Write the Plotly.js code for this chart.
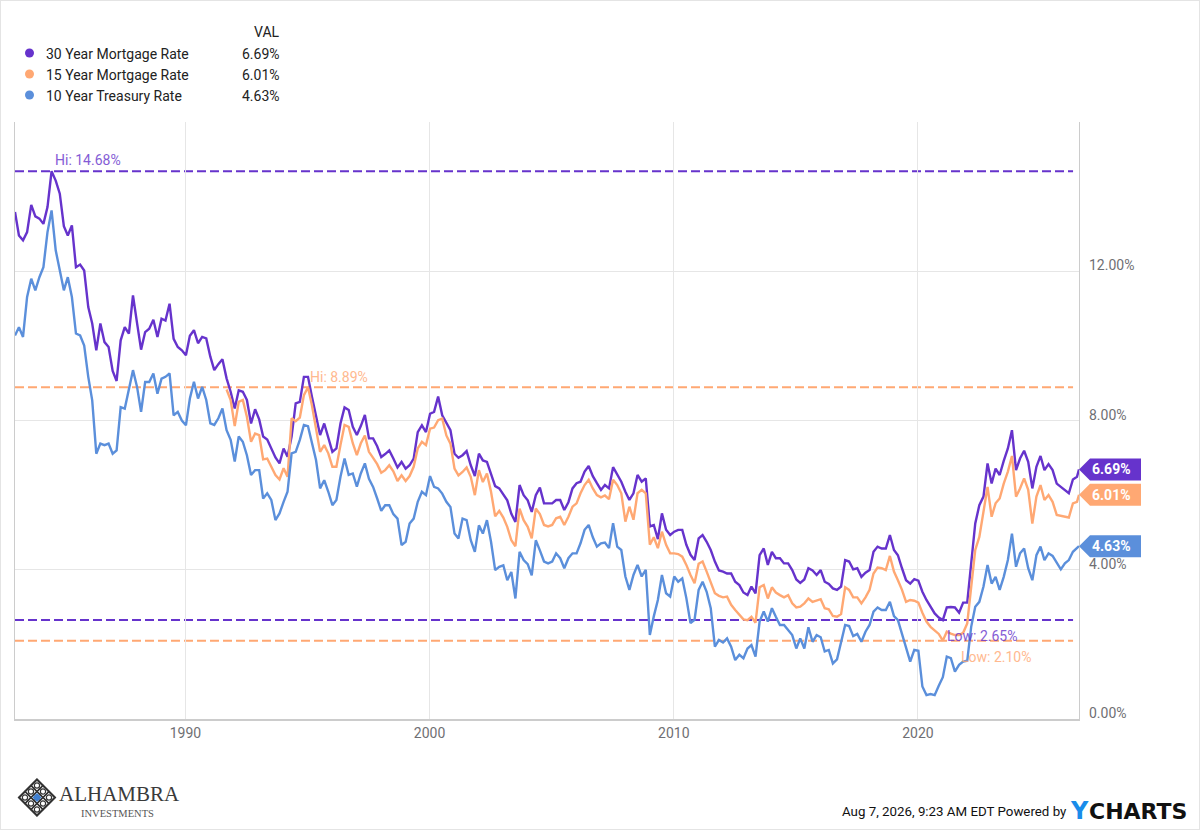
<!DOCTYPE html>
<html>
<head>
<meta charset="utf-8">
<title>Mortgage Rates</title>
<script src="https://cdn.plot.ly/plotly-3.0.1.min.js"></script>
<style>
  html, body { margin: 0; padding: 0; background: #fff; }
  #chart { width: 1200px; height: 830px; }
  #frame { position: absolute; left: 0; top: 0; width: 1198px; height: 828px; border: 1px solid #e4e4e4; pointer-events: none; }
</style>
</head>
<body>
<div id="chart"></div>
<div id="frame"></div>
<script>
// values, one point every two months from Jan 1983
var rate30 = [
  13.59,12.96,12.83,13.05,13.78,13.47,13.41,13.27,13.72,14.68,
  14.43,14.08,13.21,12.96,13.23,12.11,12.18,12.02,11.04,10.6,
  9.88,10.6,10.1,9.97,9.33,9.06,10.15,10.5,10.33,11.35,
  10.61,9.9,10.37,10.46,10.7,10.24,10.73,10.68,11.13,10.19,
  9.97,9.88,9.75,10.27,10.42,10.07,10.24,10.2,9.71,9.35,
  9.51,9.64,9.13,8.77,8.32,8.81,8.77,8.55,7.92,8.3,
  8.03,7.57,7.49,7.25,7.01,6.85,7.25,7.03,7.57,8.46,
  8.5,9.17,9.17,8.64,8.1,7.61,7.92,7.52,7.16,7.25,
  7.92,8.35,8.28,7.83,7.61,7.85,8.15,7.52,7.52,7.31,
  7.02,7.1,7.2,6.98,6.74,6.89,6.71,6.8,6.98,7.69,
  7.87,7.69,8.18,8.23,8.64,8.14,7.92,7.74,7.11,7.0,
  7.07,7.18,6.8,6.51,7.11,6.93,6.89,6.58,6.24,6.18,
  6.0,5.86,5.5,5.28,6.27,6.0,5.86,5.55,6.0,6.2,
  5.78,5.78,5.78,5.87,5.87,5.6,5.81,6.18,6.32,6.36,
  6.63,6.78,6.51,6.32,6.14,6.27,6.18,6.75,6.54,6.36,
  6.09,5.87,6.05,6.54,6.36,6.45,5.16,5.2,4.82,5.51,
  5.07,4.93,5.02,5.07,5.07,4.67,4.4,4.26,4.84,4.93,
  4.75,4.53,4.22,3.98,3.95,3.9,3.9,3.68,3.59,3.39,
  3.32,3.55,3.37,4.39,4.57,4.13,4.48,4.31,4.31,4.17,
  4.17,3.99,3.74,3.65,3.74,4.04,3.98,3.86,3.99,3.68,
  3.62,3.5,3.46,3.55,4.26,4.22,4.01,4.04,3.81,3.92,
  3.99,4.48,4.62,4.57,4.57,4.93,4.53,4.39,4.04,3.72,
  3.63,3.75,3.71,3.41,3.19,3.01,2.83,2.72,2.65,2.99,
  3.0,2.99,2.85,3.12,3.12,4.17,5.24,5.73,5.96,6.85,
  6.31,6.71,6.54,6.92,7.25,7.74,6.67,6.98,7.19,6.89,
  6.18,6.76,7.05,6.67,6.83,6.67,6.31,6.22,6.13,6.05,
  6.42,6.49,6.69
];

// the 15 year series only starts in late 1991
var rate15Start = 52;
var rate15 = [
  8.83,8.55,7.85,8.5,8.55,8.1,7.43,7.65,
  7.61,6.96,6.98,6.76,6.54,6.42,6.72,6.49,8.06,7.98,
  8.08,8.68,8.89,8.41,7.83,7.16,7.34,7.12,6.76,6.76,
  7.34,7.88,7.83,7.39,7.07,7.39,7.6,7.16,7.0,6.83,
  6.6,6.67,6.8,6.64,6.38,6.53,6.38,6.51,6.76,7.25,
  7.43,7.34,7.78,7.81,8.01,8.05,7.6,7.38,6.71,6.53,
  6.62,6.74,6.49,6.0,6.67,6.35,6.58,6.09,5.43,5.58,
  5.4,5.15,4.79,4.63,5.64,5.33,5.15,4.84,5.64,5.49,
  5.2,5.16,5.2,5.38,5.42,5.2,5.42,5.69,5.78,6.05,
  6.27,6.41,6.18,6.0,5.94,5.99,5.89,6.41,6.27,6.05,
  5.29,5.69,5.34,6.05,6.14,6.05,4.67,4.87,4.58,5.02,
  4.67,4.44,4.44,4.42,4.35,4.13,3.86,3.64,4.16,4.22,
  3.95,3.68,3.37,3.3,3.26,3.28,3.06,2.92,2.79,2.67,
  2.65,2.74,2.58,3.53,3.59,3.23,3.53,3.39,3.32,3.26,
  3.32,3.1,2.99,3.01,3.1,3.23,3.14,3.17,3.21,2.97,
  2.94,2.76,2.74,2.81,3.53,3.46,3.26,3.26,3.1,3.26,
  3.46,3.9,4.06,4.04,3.99,4.37,3.95,3.72,3.46,3.14,
  3.19,3.17,3.12,2.85,2.61,2.47,2.38,2.28,2.1,2.34,
  2.29,2.25,2.25,2.31,2.56,3.46,4.53,4.88,5.6,6.22,
  5.42,5.78,5.91,6.31,6.63,7.05,5.96,6.18,6.45,6.14,
  5.24,5.96,6.27,5.87,6.0,5.82,5.47,5.44,5.42,5.4,
  5.78,5.82,6.01
];

var rate10 = [
  10.28,10.5,10.24,11.31,11.8,11.49,11.84,12.11,13.05,13.63,
  12.56,12.02,11.49,11.84,11.31,10.33,10.28,10.01,9.17,8.54,
  7.11,7.38,7.34,7.38,7.11,7.2,8.36,8.32,8.81,9.35,
  8.9,8.23,9.03,9.03,9.26,8.72,9.12,9.17,9.26,8.14,
  8.23,8.0,7.87,8.59,9.04,8.59,8.9,8.55,7.92,7.88,
  8.06,8.32,7.74,7.48,6.9,7.57,7.43,7.07,6.54,6.67,
  6.67,5.91,6.05,5.87,5.33,5.51,5.82,6.09,7.12,7.16,
  7.48,7.88,7.85,7.39,6.94,6.18,6.4,6.09,5.73,5.87,
  6.49,6.98,6.54,6.58,6.23,6.58,6.85,6.44,6.22,5.91,
  5.58,5.73,5.73,5.49,5.37,4.66,4.75,5.24,5.37,5.82,
  6.09,6.0,6.51,6.22,6.18,6.04,5.82,5.68,4.97,4.84,
  5.37,5.33,4.79,4.48,5.19,4.97,5.33,4.75,3.99,4.08,
  4.12,3.72,3.94,3.23,4.48,4.26,4.15,3.85,4.79,4.52,
  4.22,4.17,4.22,4.44,4.31,4.04,4.31,4.44,4.44,4.71,
  5.07,5.2,4.87,4.62,4.71,4.73,4.58,5.25,4.62,4.53,
  3.82,3.46,3.86,4.13,3.82,4.0,2.25,2.75,3.19,3.86,
  3.37,3.28,3.82,3.68,3.77,3.24,2.57,2.66,3.46,3.68,
  3.41,2.97,1.94,2.12,2.05,2.16,1.94,1.58,1.72,1.63,
  1.89,1.98,1.67,2.61,2.88,2.61,2.97,2.74,2.52,2.52,
  2.39,2.25,1.89,2.16,1.89,2.46,2.07,2.25,2.19,1.81,
  1.85,1.49,1.6,2.07,2.52,2.49,2.22,2.28,2.07,2.34,
  2.52,2.88,2.99,2.92,2.92,3.14,2.76,2.65,2.3,1.94,
  1.54,1.85,1.83,0.87,0.64,0.67,0.64,0.89,1.12,1.67,
  1.63,1.27,1.45,1.54,1.56,2.47,3.01,3.14,3.55,4.13,
  3.63,3.81,3.46,3.81,4.26,4.97,4.08,4.44,4.57,4.04,
  3.72,4.39,4.62,4.26,4.44,4.37,4.17,4.01,4.17,4.26,
  4.48,4.6,4.63
];

var seriesNames = ["30 Year Mortgage Rate", "15 Year Mortgage Rate", "10 Year Treasury Rate"];
var seriesColors = ["#6633cc", "#ffa873", "#5b8fdb"];
var lastValues = [6.69, 6.01, 4.63];
var lastLabels = ["6.69%", "6.01%", "4.63%"];

var yTicks = [0, 4, 8, 12];
var yTickLabels = ["0.00%", "4.00%", "8.00%", "12.00%"];
var xTicks = ["1990-01-01", "2000-01-01", "2010-01-01", "2020-01-01"];
var xTickLabels = ["1990", "2000", "2010", "2020"];

var hiLow = [
  { text: "Hi: 14.68%", value: 14.68, color: "#6633cc", at: "1984-08-05", shift: 11 },
  { text: "Hi: 8.89%", value: 8.89, color: "#ffa873", at: "1995-01-05", shift: 10 },
  { text: "Low: 2.65%", value: 2.65, color: "#6633cc", at: "2021-02-15", shift: -16 },
  { text: "Low: 2.10%", value: 2.10, color: "#ffa873", at: "2021-09-01", shift: -16 }
];

var startDate = "1983-01-08";
var endDate = "2026-08-07";

var dates = [];
for (var i = 0; i < rate30.length - 1; i++) {
  dates.push(new Date(Date.UTC(1983, 2 * i, 8)).toISOString().slice(0, 10));
}
dates.push(endDate);

var W = 1200, H = 830;
var plotL = 14.5, plotR = 1079.5, plotT = 122, plotB = 719;
function px(x) { return (x - plotL) / (plotR - plotL); }
function py(y) { return (plotB - y) / (plotB - plotT); }

var font = "Roboto, sans-serif";
var tickColor = "#6f6f73";

var traces = [
  { x: dates, y: rate30, name: seriesNames[0], color: seriesColors[0] },
  { x: dates.slice(rate15Start), y: rate15, name: seriesNames[1], color: seriesColors[1] },
  { x: dates, y: rate10, name: seriesNames[2], color: seriesColors[2] }
].map(function (s) {
  return {
    x: s.x, y: s.y, name: s.name, type: "scatter", mode: "lines",
    line: { color: s.color, width: 2.4 }, hoverinfo: "x+y"
  };
});

var shapes = [];
var annotations = [];

function text(x, y, str, size, color, anchor, family) {
  annotations.push({
    xref: "paper", yref: "paper", x: px(x), y: py(y), text: str, showarrow: false,
    xanchor: anchor || "left", yanchor: "middle", borderpad: 0, borderwidth: 0,
    font: { family: family || font, size: size, color: color }
  });
}

// header table
text(280, 32, "VAL", 14, "#222", "right");
seriesNames.forEach(function (name, n) {
  var y = [54, 75, 96][n];
  shapes.push({
    type: "circle", xref: "paper", yref: "paper", xsizemode: "pixel", ysizemode: "pixel",
    xanchor: px(29), yanchor: py(y - 1), x0: -4.5, x1: 4.5, y0: -4.5, y1: 4.5,
    fillcolor: seriesColors[n], line: { width: 0 }
  });
  text(46, y, name, 14, "#222");
  text(280, y, lastLabels[n], 14, "#222", "right");
});

// hi and low lines
hiLow.forEach(function (h) {
  shapes.push({
    type: "line", xref: "x", yref: "y", x0: startDate, x1: "2026-05-10", y0: h.value, y1: h.value,
    line: { color: h.color, width: 2, dash: "9px,4px" }, layer: "below"
  });
  annotations.push({
    xref: "x", yref: "y", x: h.at, y: h.value, text: h.text, showarrow: false,
    xanchor: "left", yanchor: "middle", yshift: h.shift, opacity: 0.8,
    font: { family: font, size: 14, color: h.color }
  });
});

// y tick labels sit just above their grid lines
yTicks.forEach(function (v, n) {
  annotations.push({
    xref: "paper", yref: "y", x: 1, y: v, xshift: 8, yshift: 6, text: yTickLabels[n],
    showarrow: false, xanchor: "left", yanchor: "middle",
    font: { family: font, size: 14, color: tickColor }
  });
});

// end of line tags
lastValues.forEach(function (v, n) {
  shapes.push({
    type: "path", xref: "paper", yref: "y", xsizemode: "pixel", ysizemode: "pixel",
    xanchor: 1, yanchor: v, path: "M 0 0 L 11 -11 L 62 -11 L 62 11 L 11 11 Z",
    fillcolor: seriesColors[n], line: { width: 0 }
  });
  annotations.push({
    xref: "paper", yref: "y", x: 1, y: v, xshift: 32, text: "<b>" + lastLabels[n] + "</b>",
    showarrow: false, xanchor: "center", yanchor: "middle",
    font: { family: font, size: 14, color: "#fff" }
  });
});

// footer
text(1067, 812, "Aug 7, 2026, 9:23 AM EDT Powered by", 13.3, "#111", "right");
text(1070, 811, "<b>Y</b>", 24, "#1a8cea", "left", "DejaVu Sans");
text(1090, 811, "<b>CHARTS</b>", 22, "#111", "left", "DejaVu Sans");

// logo, a rotated 3x3 lattice with a blue middle
var logoX = 36.5, logoY = 797.5;
function diamond(cx, cy, r, fill, lineColor, w) {
  shapes.push({
    type: "path", xref: "paper", yref: "paper", xsizemode: "pixel", ysizemode: "pixel",
    xanchor: px(logoX), yanchor: py(logoY),
    path: "M " + cx + " " + (cy + r) + " L " + (cx + r) + " " + cy + " L " + cx + " " + (cy - r) + " L " + (cx - r) + " " + cy + " Z",
    fillcolor: fill, line: { color: lineColor, width: w }
  });
}
diamond(0, 0, 18, "rgba(0,0,0,0)", "#333", 2);
[-1, 0, 1].forEach(function (u) {
  [-1, 0, 1].forEach(function (v) {
    var cx = (u - v) * 6, cy = (u + v) * 6;
    diamond(cx, cy, 6, "rgba(0,0,0,0)", "#333", 1.3);
    shapes.push({
      type: "circle", xref: "paper", yref: "paper", xsizemode: "pixel", ysizemode: "pixel",
      xanchor: px(logoX), yanchor: py(logoY), x0: cx - 2.6, x1: cx + 2.6, y0: cy - 2.6, y1: cy + 2.6,
      fillcolor: "rgba(0,0,0,0)", line: { color: "#333", width: 1.2 }
    });
  });
});
diamond(0, 0, 4.5, "#3f7fd0", "#3f7fd0", 0);
text(59, 794, "ALHAMBRA", 21, "#3a3a3a", "left", "Liberation Serif");
text(81, 813, "INVESTMENTS", 10.5, "#555", "left", "Liberation Serif");

var layout = {
  width: W, height: H,
  margin: { l: plotL, r: W - plotR, t: plotT, b: H - plotB, pad: 0 },
  paper_bgcolor: "#fff", plot_bgcolor: "#fff",
  showlegend: false,
  hovermode: "x unified",
  font: { family: font },
  xaxis: {
    type: "date", range: [startDate, endDate],
    tickmode: "array", tickvals: xTicks, ticktext: xTickLabels,
    tickfont: { family: font, size: 14, color: tickColor }, ticks: "", ticklen: 0,
    showgrid: true, gridcolor: "#e6e6e6", gridwidth: 1,
    showline: true, linecolor: "#cccccc", linewidth: 2, zeroline: false
  },
  yaxis: {
    range: [0, 16], tickmode: "array", tickvals: yTicks, showticklabels: false,
    showgrid: true, gridcolor: "#e6e6e6", gridwidth: 1, zeroline: false,
    showline: true, linecolor: "#cccccc", linewidth: 1, mirror: true, ticks: ""
  },
  shapes: shapes,
  annotations: annotations
};

Plotly.newPlot("chart", traces, layout, { displayModeBar: false, staticPlot: true });
</script>
</body>
</html>
